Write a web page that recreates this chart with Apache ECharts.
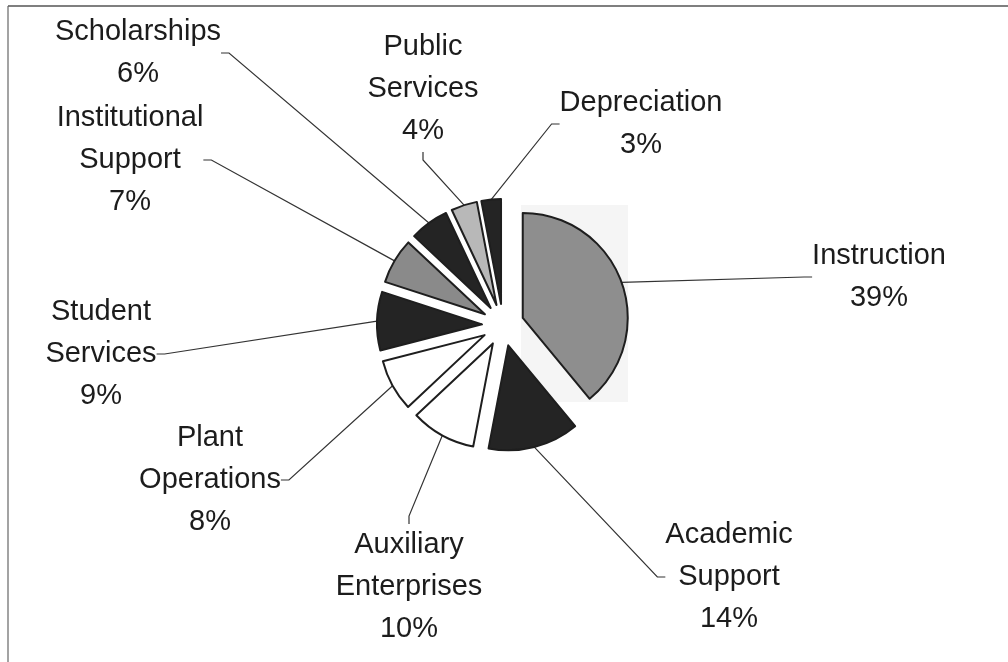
<!DOCTYPE html>
<html>
<head>
<meta charset="utf-8">
<script src="https://cdn.jsdelivr.net/npm/echarts@6/dist/echarts.min.js"></script>
<style>
  html, body { margin: 0; padding: 0; background: #fff; }
  #chart { width: 1008px; height: 662px; }
</style>
</head>
<body>
<div id="chart"></div>
<script>
// slices, clockwise from 12 o'clock
const categories = [
  'Instruction',
  'Academic\nSupport',
  'Auxiliary\nEnterprises',
  'Plant\nOperations',
  'Student\nServices',
  'Institutional\nSupport',
  'Scholarships',
  'Public\nServices',
  'Depreciation'
]
const shares = [39, 14, 10, 8, 9, 7, 6, 4, 3]

const sliceColors = ['#8e8e8e', '#242424', '#ffffff', '#ffffff', '#242424', '#8a8a8a', '#242424', '#b8b8b8', '#242424']
// where each label block sits (pixel centre)
const labelCenters = [
  [879, 277], [729, 577], [409, 587], [210, 480], [101, 354],
  [130, 160], [138, 53], [423, 89], [641, 124]
]

const pieCenter = [503, 325]
const pieRadius = 105
const explode = 21

const chart = echarts.init(document.getElementById('chart'))

// exploded pie: one series per slice, each shifted out along its mid angle
const total = shares.reduce((a, b) => a + b, 0)
let acc = 0
const series = categories.map((name, k) => {
  const mid = (acc + shares[k] / 2) / total * 2 * Math.PI
  acc += shares[k]
  return {
    type: 'pie',
    center: [pieCenter[0] + explode * Math.sin(mid), pieCenter[1] - explode * Math.cos(mid)],
    radius: pieRadius,
    startAngle: 90,
    clockwise: true,
    avoidLabelOverlap: false,
    silent: true,
    emphasis: { disabled: true },
    label: {
      formatter: '{b}\n{c}%',
      fontFamily: 'Liberation Sans',
      fontSize: 29,
      lineHeight: 42,
      color: '#1c1c1c',
      align: 'center'
    },
    labelLine: {
      length: 20,
      length2: 8,
      lineStyle: { color: '#333', width: 1.2 }
    },
    labelLayout: (p) => p.dataIndex === k ? {
      x: labelCenters[k][0],
      y: labelCenters[k][1],
      align: 'center',
      verticalAlign: 'middle'
    } : {},
    data: categories.map((n, i) => ({
      name: n,
      value: shares[i],
      itemStyle: i === k
        ? { color: sliceColors[i], borderColor: '#1e1e1e', borderWidth: 2 }
        : { color: 'rgba(0,0,0,0)', borderWidth: 0 },
      label: { show: i === k },
      labelLine: { show: i === k }
    }))
  }
})

chart.setOption({
  animation: false,
  graphic: [
    { type: 'line', shape: { x1: 8, y1: 6, x2: 1008, y2: 6 }, style: { stroke: '#555', lineWidth: 1.5 } },
    { type: 'line', shape: { x1: 8, y1: 6, x2: 8, y2: 662 }, style: { stroke: '#666', lineWidth: 1.2 } },
    // faint scan patch behind the Instruction slice
    { type: 'rect', z: -10, shape: { x: 521, y: 205, width: 107, height: 197 }, style: { fill: '#f5f5f5' } }
  ],
  series
})
</script>
</body>
</html>
